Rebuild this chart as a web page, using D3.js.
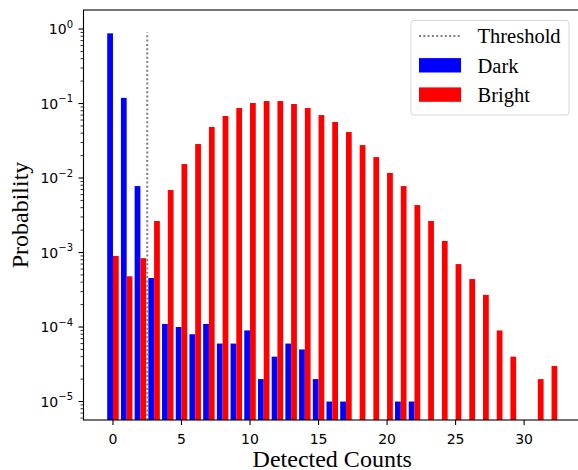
<!DOCTYPE html>
<html lang="en">
<head>
<meta charset="UTF-8">
<title>Detected counts</title>
<script src="https://d3js.org/d3.v7.min.js"></script>
<style>
  body { margin: 0; background: #fff; }
  .tick-label { font-family: "DejaVu Sans", sans-serif; font-size: 14px; fill: #000; }
  .axis-title { font-family: "Liberation Serif", "Times New Roman", serif; font-size: 24px; fill: #000; }
  .legend text { font-family: "Liberation Serif", "Times New Roman", serif; font-size: 20.5px; fill: #000; }
</style>
</head>
<body>
<script>
// data
var counts = [0, 1, 2, 3, 4, 5, 6, 7, 8, 9, 10, 11, 12, 13, 14, 15, 16,
              17, 18, 19, 20, 21, 22, 23, 24, 25, 26, 27, 28, 29, 30, 31, 32];
var dark = [0.875, 0.119, 0.0078, 4.55e-4, 1.1e-4, 1.0e-4, 8.0e-5, 1.1e-4, 6.0e-5, 6.0e-5,
            9.0e-5, 2.0e-5, 4.0e-5, 6.0e-5, 5.0e-5, 2.0e-5, 1.0e-5, 1.0e-5, 0, 0,
            0, 1.0e-5, 1.0e-5, 0, 0, 0, 0, 0, 0, 0, 0, 0, 0];
var bright = [9.0e-4, 4.8e-4, 8.4e-4, 2.65e-3, 6.9e-3, 0.0154, 0.0286, 0.0484, 0.068, 0.087,
              0.1016, 0.108, 0.108, 0.0985, 0.087, 0.070, 0.0565, 0.0414, 0.0277, 0.0191,
              0.0117, 0.0078, 0.00434, 0.00265, 0.00143, 7.0e-4, 4.4e-4, 2.7e-4, 9.0e-5, 4.0e-5,
              0, 2.0e-5, 3.0e-5];
var threshold = 2.5, thresholdTop = 0.9;
var xTicks = [0, 5, 10, 15, 20, 25, 30];
var yExponents = [-5, -4, -3, -2, -1, 0];
var legendLabels = ["Threshold", "Dark", "Bright"];

var W = 578, H = 470;
var m = {left: 83.5, right: 581, top: 10, bottom: 420};
var barW = 0.42;

var svg = d3.select("body").append("svg")
    .attr("width", W)
    .attr("height", H);

var x = d3.scaleLinear().domain([-2.15, 34.15]).range([m.left, m.right]);
var y = d3.scaleLog().domain([5.65e-6, 1.8]).range([m.bottom, m.top]);

var plot = svg.append("g");

// bars
function drawBars(values, offset, color) {
  plot.selectAll(null)
      .data(counts.filter(function(c, i) { return values[i] > 0; }))
    .enter().append("rect")
      .attr("x", function(c) { return x(c + offset); })
      .attr("width", x(barW) - x(0))
      .attr("y", function(c) { return y(values[c]); })
      .attr("height", function(c) { return m.bottom - y(values[c]); })
      .attr("fill", color);
}
drawBars(dark, -barW, "#0000ff");
drawBars(bright, 0, "#ff0000");

// threshold line
plot.append("line")
    .attr("x1", x(threshold)).attr("x2", x(threshold))
    .attr("y1", m.bottom).attr("y2", y(thresholdTop))
    .attr("stroke", "#808080")
    .attr("stroke-width", 2)
    .attr("stroke-dasharray", "2,2.3");

// x axis
var xAxis = svg.append("g").attr("transform", "translate(0," + m.bottom + ")");
xAxis.selectAll("line.tk").data(xTicks).enter().append("line")
    .attr("x1", function(d) { return x(d); }).attr("x2", function(d) { return x(d); })
    .attr("y1", 0).attr("y2", 5)
    .attr("stroke", "#000").attr("stroke-width", 1.1);
xAxis.selectAll("text").data(xTicks).enter().append("text")
    .attr("class", "tick-label")
    .attr("x", function(d) { return x(d); })
    .attr("y", 24)
    .attr("text-anchor", "middle")
    .text(function(d) { return d; });

// y axis: major + minor log ticks
var yAxis = svg.append("g").attr("transform", "translate(" + m.left + ",0)");
var minor = [];
d3.range(-6, 1).forEach(function(e) {
  [2, 3, 4, 5, 6, 7, 8, 9].forEach(function(k) {
    var v = k * Math.pow(10, e);
    if (v >= y.domain()[0] && v <= y.domain()[1]) minor.push(v);
  });
});
yAxis.selectAll("line.mn").data(minor).enter().append("line")
    .attr("x1", -3).attr("x2", 0)
    .attr("y1", function(d) { return y(d); }).attr("y2", function(d) { return y(d); })
    .attr("stroke", "#000").attr("stroke-width", 0.8);
yAxis.selectAll("line.mj").data(yExponents).enter().append("line")
    .attr("x1", -5).attr("x2", 0)
    .attr("y1", function(e) { return y(Math.pow(10, e)); })
    .attr("y2", function(e) { return y(Math.pow(10, e)); })
    .attr("stroke", "#000").attr("stroke-width", 1.1);
var yl = yAxis.selectAll("text").data(yExponents).enter().append("text")
    .attr("class", "tick-label")
    .attr("x", -10.5)
    .attr("y", function(e) { return y(Math.pow(10, e)) + 5; })
    .attr("text-anchor", "end");
yl.append("tspan").text("10");
yl.append("tspan")
    .attr("dy", -6.5)
    .attr("font-size", "10px")
    .text(function(e) { return e < 0 ? "\u2212" + (-e) : e; });

// spines
svg.append("rect")
    .attr("x", m.left).attr("y", m.top)
    .attr("width", m.right - m.left).attr("height", m.bottom - m.top)
    .attr("fill", "none").attr("stroke", "#000").attr("stroke-width", 1.1);

// axis titles
svg.append("text").attr("class", "axis-title")
    .attr("x", (m.left + m.right) / 2).attr("y", 467)
    .attr("text-anchor", "middle")
    .text("Detected Counts");
svg.append("text").attr("class", "axis-title")
    .attr("transform", "translate(28," + (m.top + m.bottom) / 2 + ") rotate(-90)")
    .attr("text-anchor", "middle")
    .text("Probability");

// legend
var lg = svg.append("g").attr("class", "legend");
lg.append("rect")
    .attr("x", 411).attr("y", 20.5).attr("width", 158).attr("height", 94.5)
    .attr("rx", 3).attr("fill", "#fff").attr("fill-opacity", 0.8)
    .attr("stroke", "#d6d6d6").attr("stroke-width", 1);
var rows = lg.selectAll("g.row").data(legendLabels).enter().append("g")
    .attr("transform", function(d, i) { return "translate(419," + (36 + i * 29.3) + ")"; });
rows.filter(function(d, i) { return i === 0; }).append("line")
    .attr("x1", 0).attr("x2", 42).attr("y1", 0).attr("y2", 0)
    .attr("stroke", "#808080").attr("stroke-width", 2)
    .attr("stroke-dasharray", "2,2.3");
rows.filter(function(d, i) { return i > 0; }).append("rect")
    .attr("x", 0).attr("y", -7.2).attr("width", 42).attr("height", 14.4)
    .attr("fill", function(d, i) { return i === 0 ? "#0000ff" : "#ff0000"; });
rows.append("text")
    .attr("x", 58.5).attr("y", 7.3)
    .text(function(d) { return d; });
</script>
</body>
</html>
